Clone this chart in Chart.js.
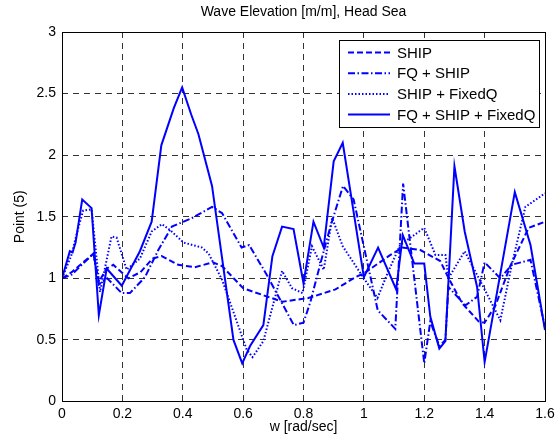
<!DOCTYPE html>
<html>
<head>
<meta charset="utf-8">
<title>Wave Elevation</title>
<script src="https://cdn.jsdelivr.net/npm/chart.js@4/dist/chart.umd.min.js"></script>
<style>
  html, body { margin: 0; padding: 0; background: #fff; }
</style>
</head>
<body>
<canvas id="waveChart" width="560" height="442"></canvas>
<script>
// frequency axis ticks
const xTicks = [0, 0.2, 0.4, 0.6, 0.8, 1.0, 1.2, 1.4, 1.6];
const xTickLabels = ["0", "0.2", "0.4", "0.6", "0.8", "1", "1.2", "1.4", "1.6"];
const yTicks = [0, 0.5, 1, 1.5, 2, 2.5, 3];
const yTickLabels = ["0", "0.5", "1", "1.5", "2", "2.5", "3"];

// SHIP
const shipW = [0, 0.032, 0.104, 0.122, 0.148, 0.17, 0.22, 0.26, 0.3, 0.33, 0.385, 0.44, 0.5, 0.53, 0.6, 0.67, 0.73, 0.816, 0.906, 0.972, 1.0, 1.088, 1.127, 1.187, 1.253, 1.281, 1.325, 1.38, 1.4, 1.436, 1.485, 1.546, 1.6];
const shipV = [1.0, 1.05, 1.2, 0.97, 1.08, 1.11, 1.0, 1.05, 1.16, 1.18, 1.11, 1.09, 1.13, 1.1, 0.92, 0.86, 0.81, 0.84, 0.91, 1.01, 1.04, 1.19, 1.25, 1.23, 1.14, 1.0, 0.8, 0.65, 0.64, 0.78, 1.1, 1.41, 1.46];

// FQ + SHIP
const fqShipW = [0, 0.032, 0.104, 0.122, 0.15, 0.198, 0.225, 0.275, 0.319, 0.364, 0.431, 0.497, 0.53, 0.595, 0.62, 0.678, 0.768, 0.8, 0.823, 0.856, 0.889, 0.931, 0.966, 1.046, 1.104, 1.13, 1.2, 1.22, 1.25, 1.27, 1.28, 1.336, 1.375, 1.4, 1.452, 1.49, 1.552, 1.6];
const fqShipV = [1.0, 1.03, 1.2, 0.95, 1.0, 0.88, 0.88, 1.01, 1.23, 1.42, 1.49, 1.58, 1.53, 1.25, 1.27, 1.03, 0.62, 0.64, 0.81, 1.12, 1.42, 1.75, 1.64, 0.74, 0.59, 1.77, 0.31, 0.65, 0.45, 0.5, 0.93, 0.78, 0.85, 1.13, 1.0, 1.11, 1.15, 0.6];

// SHIP + FixedQ
const shipFixW = [0, 0.03, 0.054, 0.07, 0.098, 0.126, 0.164, 0.181, 0.214, 0.258, 0.297, 0.331, 0.359, 0.403, 0.464, 0.486, 0.53, 0.612, 0.631, 0.667, 0.729, 0.762, 0.797, 0.828, 0.867, 0.895, 0.93, 1.0, 1.045, 1.08, 1.12, 1.2, 1.237, 1.27, 1.28, 1.334, 1.4, 1.452, 1.49, 1.535, 1.6];
const shipFixV = [1.0, 1.18, 1.41, 1.55, 1.56, 0.89, 1.34, 1.33, 1.07, 1.16, 1.38, 1.44, 1.39, 1.29, 1.25, 1.2, 0.99, 0.42, 0.36, 0.49, 1.06, 0.92, 0.88, 1.26, 1.07, 1.49, 1.26, 1.0, 0.84, 1.05, 1.27, 1.41, 1.19, 1.19, 1.0, 1.22, 0.91, 0.66, 1.11, 1.58, 1.69];

// FQ + SHIP + FixedQ
const allW = [0, 0.026, 0.035, 0.045, 0.067, 0.098, 0.122, 0.148, 0.198, 0.258, 0.297, 0.329, 0.37, 0.398, 0.428, 0.452, 0.497, 0.568, 0.597, 0.623, 0.667, 0.697, 0.729, 0.767, 0.8, 0.833, 0.867, 0.9, 0.93, 1.0, 1.047, 1.107, 1.129, 1.167, 1.2, 1.22, 1.25, 1.27, 1.3, 1.334, 1.375, 1.4, 1.5, 1.552, 1.6];
const allV = [1.0, 1.22, 1.21, 1.29, 1.64, 1.57, 0.70, 1.08, 0.94, 1.22, 1.46, 2.08, 2.38, 2.55, 2.33, 2.17, 1.75, 0.50, 0.31, 0.45, 0.62, 1.18, 1.42, 1.40, 0.96, 1.46, 1.25, 1.95, 2.10, 1.01, 1.25, 0.91, 1.35, 1.12, 1.12, 0.69, 0.43, 0.49, 1.91, 1.38, 0.93, 0.32, 1.70, 1.27, 0.58];

const FONT = '"Liberation Sans", Arial, sans-serif';
const BLUE = "#0000ff";

function pts(ws, vs) {
  return ws.map((w, i) => ({ x: w, y: vs[i] }));
}

// same half-pixel snapping chart.js uses for 1px grid lines
const snap = p => Math.round(p - 0.5) + 0.5;

// box round the axes, like matlab "box on"
const axesBox = {
  id: "axesBox",
  afterDatasetsDraw(chart) {
    const { ctx, chartArea: a } = chart;
    const l = snap(a.left), r = snap(a.right), t = snap(a.top), b = snap(a.bottom);
    ctx.save();
    ctx.strokeStyle = "#000";
    ctx.lineWidth = 1;
    ctx.strokeRect(l, t, r - l, b - t);
    ctx.restore();
  }
};

// legend inside the top right corner
const legendInside = {
  id: "legendInside",
  afterDraw(chart) {
    const { ctx, chartArea } = chart;
    const boxW = 200, boxH = 87, rowH = 20.7;
    const x0 = Math.round(chartArea.right - 6 - boxW);
    const y0 = Math.round(chartArea.top + 8);
    ctx.save();
    ctx.fillStyle = "#fff";
    ctx.fillRect(x0, y0, boxW, boxH);
    ctx.strokeStyle = "#000";
    ctx.lineWidth = 1;
    ctx.strokeRect(x0 + 0.5, y0 + 0.5, boxW, boxH);
    ctx.font = "15px " + FONT;
    ctx.textBaseline = "middle";
    chart.data.datasets.forEach((ds, i) => {
      const y = y0 + 12.5 + i * rowH;
      ctx.strokeStyle = ds.borderColor;
      ctx.lineWidth = ds.borderWidth;
      ctx.setLineDash(ds.borderDash || []);
      ctx.beginPath();
      ctx.moveTo(x0 + 9, y);
      ctx.lineTo(x0 + 51, y);
      ctx.stroke();
      ctx.setLineDash([]);
      ctx.fillStyle = "#000";
      ctx.fillText(ds.label, x0 + 58, y + 1);
    });
    ctx.restore();
  }
};

const ctx = document.getElementById("waveChart").getContext("2d");
new Chart(ctx, {
  type: "line",
  data: {
    datasets: [
      { label: "SHIP", data: pts(shipW, shipV), borderDash: [6, 3] },
      { label: "FQ + SHIP", data: pts(fqShipW, fqShipV), borderDash: [7, 2.5, 1.5, 2.5] },
      { label: "SHIP + FixedQ", data: pts(shipFixW, shipFixV), borderDash: [1.5, 2] },
      { label: "FQ + SHIP + FixedQ", data: pts(allW, allV), borderDash: [] }
    ].map(ds => Object.assign(ds, {
      borderColor: BLUE,
      borderWidth: 2,
      pointRadius: 0,
      tension: 0,
      fill: false
    }))
  },
  options: {
    responsive: false,
    animation: false,
    layout: { padding: { left: 0, right: 15, top: 0, bottom: 0 } },
    plugins: {
      legend: { display: false },
      tooltip: { enabled: false },
      title: {
        display: true,
        text: "Wave Elevation [m/m], Head Sea",
        fullSize: false,
        color: "#000",
        font: { family: FONT, size: 14, weight: "normal" },
        padding: { top: 4, bottom: 11.2 }
      }
    },
    scales: {
      x: {
        type: "linear",
        min: 0,
        max: 1.6,
        afterBuildTicks: s => { s.ticks = xTicks.map(v => ({ value: v })); },
        afterFit: s => { s.height = 40.5; },
        ticks: {
          color: "#000",
          font: { family: FONT, size: 14 },
          padding: 4,
          maxRotation: 0,
          callback: (v, i) => xTickLabels[i]
        },
        grid: { color: "#333", lineWidth: 1, drawTicks: false },
        border: { display: false, dash: [6, 5] },
        title: {
          display: true,
          text: "w [rad/sec]",
          color: "#000",
          font: { family: FONT, size: 14 },
          padding: { top: 0, bottom: 6 }
        }
      },
      y: {
        min: 0,
        max: 3,
        afterBuildTicks: s => { s.ticks = yTicks.map(v => ({ value: v })); },
        afterFit: s => { s.width = 62; },
        ticks: {
          color: "#000",
          font: { family: FONT, size: 14 },
          padding: 6,
          callback: (v, i) => yTickLabels[i]
        },
        grid: { color: "#333", lineWidth: 1, drawTicks: false },
        border: { display: false, dash: [6, 5] },
        title: {
          display: true,
          text: "Point (5)",
          color: "#000",
          font: { family: FONT, size: 14 },
          padding: { top: 12, bottom: 0 }
        }
      }
    }
  },
  plugins: [axesBox, legendInside]
});
</script>
</body>
</html>
